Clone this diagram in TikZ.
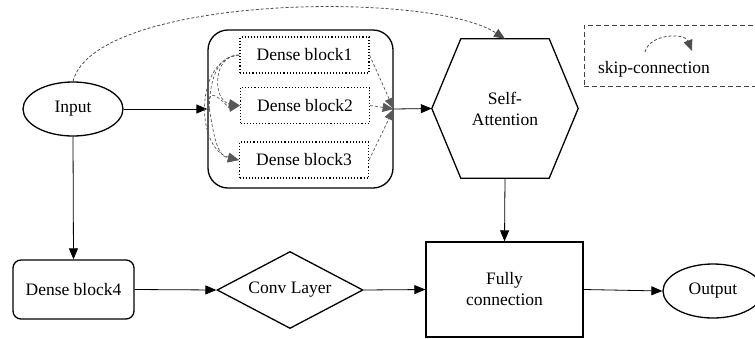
\documentclass[tikz,border=0pt]{standalone}
\usepackage{fontspec}
\setmainfont{Liberation Serif}
\usetikzlibrary{arrows.meta,shapes.geometric}
\begin{document}
\begin{tikzpicture}[x=1pt,y=-1pt,
  font=\rmfamily\fontsize{17.5}{21}\selectfont,
  tip/.tip={Triangle[length=11pt,width=9pt]},
  conn/.style={line width=0.8pt,-tip},
  shp/.style={draw,line width=1.3pt,inner sep=0pt,align=center},
  dblk/.style={draw,dotted,line width=1.1pt,inner sep=0pt,minimum width=129pt,minimum height=36pt},
  dsh/.style={draw=black!65,dash pattern=on 3pt off 2pt,line width=0.7pt},
  skipl/.style={draw=black!70,dash pattern=on 3pt off 2pt,line width=0.8pt,-tip},
]
\useasboundingbox (0,0) rectangle (755,338);
% nodes
\node[shp,ellipse,minimum width=100pt,minimum height=54pt] (in) at (73,109) {Input};
\node[shp,rounded corners=20pt,minimum width=185pt,minimum height=158pt] (db) at (300.5,109) {};
\node[dblk] (b1) at (304.5,55) {Dense block1};
\node[dblk] (b2) at (305,105.5) {Dense block2};
\node[dblk] (b3) at (304,160) {Dense block3};
\node[inner sep=0pt,minimum width=146pt,minimum height=139pt,align=center] (sa) at (505,108.5) {Self-\\Attention};
\draw[line width=1.3pt,line join=miter]
  ([xshift=29pt]sa.north west) -- ([xshift=-29pt]sa.north east) -- (sa.east)
  -- ([xshift=-29pt]sa.south east) -- ([xshift=29pt]sa.south west) -- (sa.west) -- cycle;
\node[shp,rounded corners=8pt,minimum width=121pt,minimum height=59pt] (d4) at (73.5,289.5) {Dense block4};
\node[shp,diamond,minimum width=146pt,minimum height=77pt,aspect=2] (cv) at (290,290) {Conv Layer};
\node[shp,minimum width=157pt,minimum height=95pt] (fc) at (504.5,289.5) {Fully\\connection};
\node[shp,ellipse,minimum width=100pt,minimum height=54pt] (out) at (713,291) {Output};
% legend
\node[draw=black!75,dash pattern=on 5pt off 3pt,line width=0.9pt,minimum width=206pt,minimum height=61pt,inner sep=0pt] (lg) at (687,55.5) {};
\node[inner sep=0pt] (lt) at (654,69) {skip-connection};
\coordinate (ls) at (645,52);
\coordinate (le) at (692,51);
\draw[skipl] (ls) .. controls (650,33) and (685,33) .. (le);
% main connectors
\draw[conn] (in.east) -- (db.west);
\draw[conn] (db.east) -- (sa.west);
\draw[conn] (in.south) -- (d4.north);
\draw[conn] (d4.east) -- (cv.west);
\draw[conn] (cv.east) -- (fc.west);
\draw[conn] (fc.east) -- (out.west);
\draw[conn] (sa.south) -- (fc.north);
\draw[skipl] (in.north) .. controls (95,-5) and (430,-10) .. (sa.north);
% inner dense connections
\coordinate (jl) at ([xshift=2pt]db.west);
\draw[dsh] (jl) to[out=90,in=180] (b1.west);
\draw[dsh,-tip] (b1.west) to[out=180,in=170,looseness=1.4] (b2.west);
\draw[dsh,-tip] (b1.west) to[out=185,in=165,looseness=1.1] (b3.west);
\draw[dsh,-tip] (jl) to[out=-80,in=170] (b3.west);
\draw[dsh,-tip] ([yshift=10pt]jl) to[out=80,in=190] (b2.west);
\draw[dsh,-tip] (b1.east) -- (db.east);
\draw[dsh,-tip] (b2.east) -- (db.east);
\draw[dsh,-tip] (b3.east) -- (db.east);
\end{tikzpicture}
\end{document}
